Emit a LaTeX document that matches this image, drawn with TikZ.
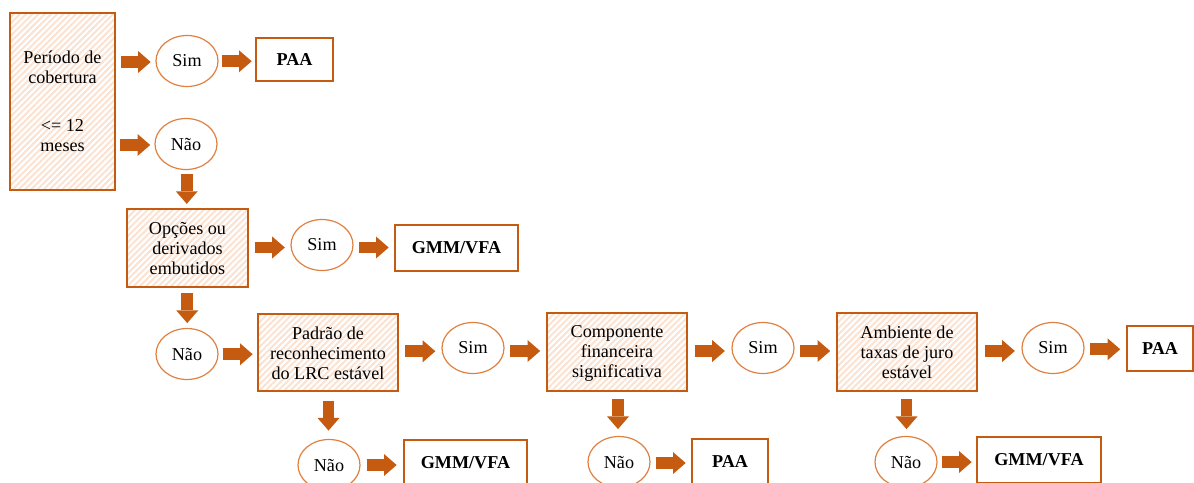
\documentclass[tikz,border=0pt]{standalone}
\usepackage{fontspec}
\setmainfont{Liberation Serif}
\usetikzlibrary{calc,arrows.meta,patterns.meta,shapes.geometric}

\definecolor{edge}{HTML}{C55A11}
\definecolor{ring}{HTML}{E08040}
\definecolor{hatch}{HTML}{FCE2D0}

\tikzset{
  x=0.75pt, y=-0.75pt,
  every node/.style={font=\fontsize{13.6pt}{15pt}\selectfont, inner sep=0pt},
  size/.style 2 args={minimum width=#1*0.75pt, minimum height=#2*0.75pt},
  question/.style={draw=edge, line width=1.9pt, preaction={fill=white},
    pattern={Lines[angle=45,distance=3.3pt,line width=1.5pt]}, pattern color=hatch,
    align=center},
  result/.style={draw=edge, line width=1.9pt, fill=white, font=\fontsize{13.6pt}{15pt}\selectfont\bfseries},
  answer/.style={ellipse, draw=ring, line width=0.9pt, fill=white, size={62}{51}},
  blk/.style={edge, line width=8.8pt,
    -{Triangle[length=9.5pt,width=16.5pt,line width=0pt]}},
}

% horizontal block arrow of fixed length, centred in the gap between two nodes
\newcommand\harrow[2]{\draw[blk] ($(#1)!0.5!(#2)+(-15,1)$) -- ($(#1)!0.5!(#2)+(15,1)$);}
% vertical block arrow, centred in the gap between two nodes
\newcommand\varrow[2]{\draw[blk] ($(#1)!0.5!(#2)+(0,-15)$) -- ($(#1)!0.5!(#2)+(0,15)$);}

\begin{document}
\begin{tikzpicture}
\useasboundingbox (0,0) rectangle (1194,482);
\clip (0,0) rectangle (1194,482);

% decision boxes
\node[question, size={105}{177}] (q1) at (62.5,101.5)
  {Período de\\cobertura\\[21pt]<= 12\\meses};
\node[question, size={121}{78}] (q2) at (187.5,248)
  {Opções ou\\derivados\\embutidos};
\node[question, size={140}{77}] (q3) at (328,352.5)
  {\strut Padrão de\\reconhecimento\\do LRC estável};
\node[question, size={140}{78}] (q4) at (617,352)
  {\strut Componente\\financeira\\significativa};
\node[question, size={140}{78}] (q5) at (907,352)
  {\strut Ambiente de\\taxas de juro\\estável};

% yes / no answers
\node[answer] (s1) at (187,61) {Sim};
\node[answer] (n1) at (186,144) {Não};
\node[answer] (s2) at (322,245) {Sim};
\node[answer] (n2) at (187,354) {Não};
\node[answer] (s3) at (473,348) {Sim};
\node[answer] (n3) at (329,465) {Não};
\node[answer] (s4) at (763,348) {Sim};
\node[answer] (n4) at (619,462) {Não};
\node[answer] (s5) at (1053,348) {Sim};
\node[answer] (n5) at (906,462) {Não};

% resulting models
\node[result, size={77}{43}] (r1) at (294.5,59.5) {PAA};
\node[result, size={123}{46}] (r2) at (456.5,248) {GMM/VFA};
\node[result, size={123}{46}] (r3) at (465.5,463) {GMM/VFA};
\node[result, size={76}{46}] (r4) at (730,462) {PAA};
\node[result, size={66}{45}] (r5) at (1160,348.5) {PAA};
\node[result, size={124}{46}] (r6) at (1039,460) {GMM/VFA};

% connectors
\harrow{q1.east|-s1}{s1.west}
\harrow{s1.east}{r1.west}
\harrow{q1.east|-n1}{n1.west}
\varrow{n1.south}{q2.north}
\harrow{q2.east}{s2.west}
\harrow{s2.east}{r2.west}
\varrow{q2.south}{n2.north}
\harrow{n2.east}{q3.west}
\harrow{q3.east}{s3.west}
\harrow{s3.east}{q4.west}
\varrow{q3.south}{n3.north}
\harrow{n3.east}{r3.west}
\harrow{q4.east}{s4.west}
\harrow{s4.east}{q5.west}
\varrow{q4.south}{n4.north}
\harrow{n4.east}{r4.west}
\harrow{q5.east}{s5.west}
\harrow{s5.east}{r5.west}
\varrow{q5.south}{n5.north}
\harrow{n5.east}{r6.west}
\end{tikzpicture}
\end{document}
